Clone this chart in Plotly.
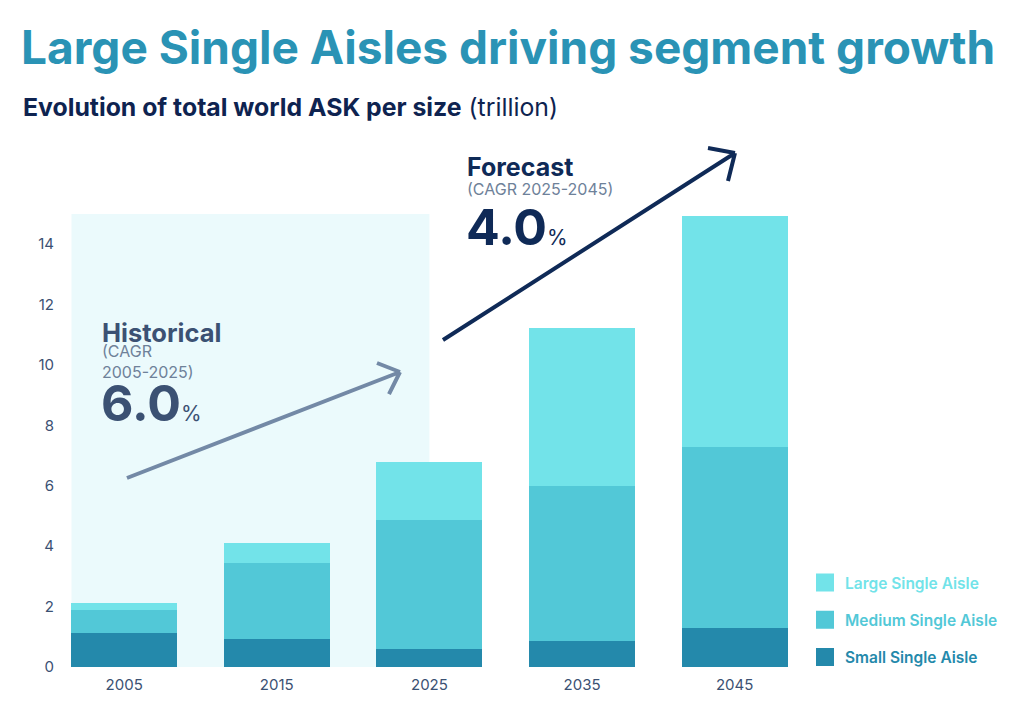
import plotly.graph_objects as go

# 数値は画像から読み取り (trillion ASK)
years = ["2005", "2015", "2025", "2035", "2045"]
small_sa = [1.13, 0.93, 0.60, 0.86, 1.29]
medium_sa = [0.76, 2.51, 4.27, 5.12, 5.99]
large_sa = [0.23, 0.68, 1.93, 5.24, 7.67]
y_ticks = [0, 2, 4, 6, 8, 10, 12, 14]

hist_cagr = "6.0"
fcst_cagr = "4.0"

# ページの body margin (8px) 分だけ図がずれるので座標を補正する
OFF = 8
W, H = 1024, 702
ML, MR, MT, MB = 49, 221, 206, 43


def px(x):
    # ページ上の px -> paper 座標
    return (x - OFF - ML) / (W - ML - MR)


def py(y):
    return (H - MB - (y - OFF)) / (H - MT - MB)


def arrow_path(pts):
    parts = []
    for i, p in enumerate(pts):
        cmd = "M" if i % 2 == 0 else "L"
        parts.append(f"{cmd}{px(p[0]):.4f},{py(p[1]):.4f}")
    return " ".join(parts)


C_SMALL = "#2489ab"
C_MEDIUM = "#52c8d7"
C_LARGE = "#72e3e9"
SLATE = "#3b5173"
GREY = "#6e8199"
NAVY = "#0f2a57"
FONT = "Inter"

series = [
    ("Small Single Aisle", small_sa, C_SMALL, 3),
    ("Medium Single Aisle", medium_sa, C_MEDIUM, 2),
    ("Large Single Aisle", large_sa, C_LARGE, 1),
]

fig = go.Figure()

for name, vals, color, rank in series:
    fig.add_trace(go.Bar(x=years, y=vals, name=name, marker=dict(color=color, line=dict(width=0)),
                         legendgroup=name, showlegend=False))
    # 凡例用 (大きめの四角)
    fig.add_trace(go.Scatter(x=[None], y=[None], mode="markers", legendgroup=name, legendrank=rank,
                             name=f"<span style='color:{color}'>{name}</span>",
                             marker=dict(symbol="square", size=16, color=color, line=dict(color=color, width=2))))

# 実績期間の背景
fig.add_shape(type="rect", xref="x", yref="y", x0=-0.345, x1=2.0, y0=0, y1=15,
              fillcolor="#ebfafc", line=dict(width=0), layer="below")

# 矢印 (実績)
fig.add_shape(type="path", xref="paper", yref="paper",
              path=arrow_path([(127, 478), (400, 372), (377, 363), (400, 372), (400, 372), (389, 394)]),
              line=dict(color="#7389a6", width=4))
# 矢印 (予測)
fig.add_shape(type="path", xref="paper", yref="paper",
              path=arrow_path([(443, 340), (735, 153), (708, 148), (735, 153), (735, 153), (728, 181)]),
              line=dict(color=NAVY, width=4))

annos = [
    dict(x=px(100), y=py(332), text="<b>Historical</b>", font=dict(size=25.5, color=SLATE)),
    dict(x=px(100), y=py(361), text="(CAGR<br>2005-2025)", font=dict(size=16, color=GREY)),
    dict(x=px(99), y=py(403), text=f"<b>{hist_cagr}</b><span style='font-size:21px'>%</span>",
         font=dict(size=50, color=SLATE)),
    dict(x=px(465), y=py(167), text="<b>Forecast</b>", font=dict(size=25, color=NAVY)),
    dict(x=px(465), y=py(189), text="(CAGR 2025-2045)", font=dict(size=16, color=GREY)),
    dict(x=px(464), y=py(227), text=f"<b>{fcst_cagr}</b><span style='font-size:21px'>%</span>",
         font=dict(size=50, color=NAVY)),
    dict(x=px(21), y=py(107), text="<b>Evolution of total world ASK per size</b> (trillion)",
         font=dict(size=24.8, color="#0e2350")),
]
for a in annos:
    a.update(xref="paper", yref="paper", xanchor="left", yanchor="middle", showarrow=False, align="left")
    fig.add_annotation(**a)

fig.update_layout(
    width=W,
    height=H,
    title=dict(text="Large Single Aisles driving segment growth", xref="container", yref="container",
               x=(21 - OFF) / W, y=1 - (48 - OFF) / H, xanchor="left", yanchor="middle",
               font=dict(family=FONT, size=46, color="#2a93b5", weight=700)),
    barmode="stack",
    bargap=0.305,
    font=dict(family=FONT, color=SLATE),
    paper_bgcolor="white",
    plot_bgcolor="white",
    margin=dict(l=ML, r=MR, t=MT, b=MB, autoexpand=False),
    showlegend=True,
    legend=dict(x=px(805), y=py(566), xanchor="left", yanchor="top", traceorder="grouped",
                tracegroupgap=14, font=dict(size=15.5, weight=600), bgcolor="rgba(0,0,0,0)"),
    xaxis=dict(type="category", range=[-0.44, 4.5], showgrid=False, zeroline=False, showline=False,
               ticks="", automargin=False, ticklabelstandoff=7, tickfont=dict(size=15, color=SLATE)),
    yaxis=dict(range=[0, 15], tickvals=y_ticks, showgrid=False, zeroline=False, showline=False,
               ticks="", automargin=False, ticklabelstandoff=2, tickfont=dict(size=15, color=SLATE)),
)

fig.write_html("out.html")
